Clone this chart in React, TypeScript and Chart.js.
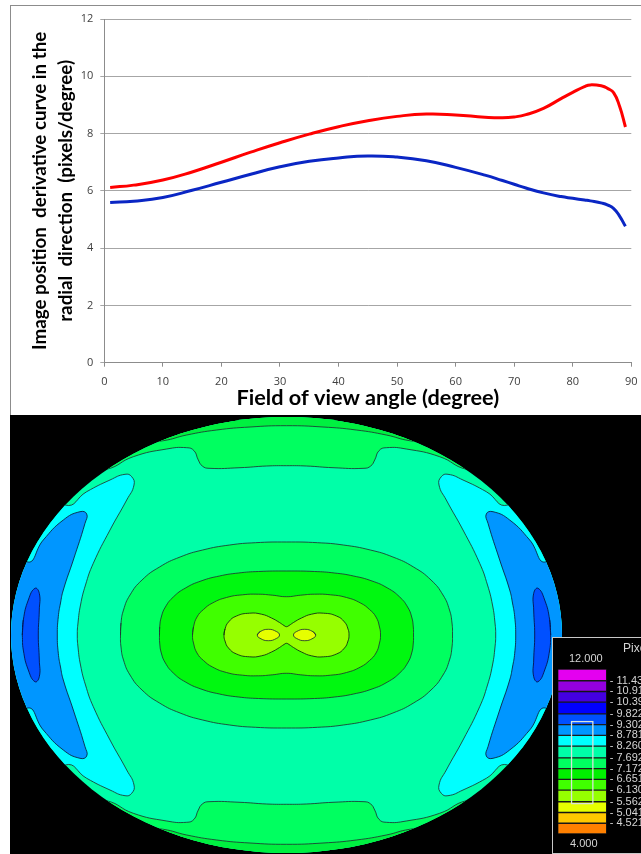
import React, { useEffect, useRef } from "react";
import { Chart, registerables } from "chart.js";

Chart.register(...registerables);

// ---------- line chart data ----------
const angles = [1, 5, 10, 15, 20, 25, 30, 35, 40, 45, 50, 55, 60, 65, 68, 70, 72, 75, 78, 80, 82, 83, 85, 86, 87, 88, 89];
const radialRed = [6.12, 6.2, 6.38, 6.66, 7.0, 7.35, 7.68, 7.98, 8.24, 8.45, 8.6, 8.68, 8.65, 8.57, 8.55, 8.58, 8.66, 8.88, 9.22, 9.44, 9.64, 9.7, 9.66, 9.57, 9.42, 8.95, 8.23];
const radialBlue = [5.59, 5.64, 5.77, 6.02, 6.3, 6.58, 6.84, 7.03, 7.15, 7.22, 7.18, 7.05, 6.82, 6.55, 6.36, 6.23, 6.1, 5.93, 5.8, 5.74, 5.68, 5.65, 5.57, 5.5, 5.38, 5.12, 4.76];
const yTicks = [0, 2, 4, 6, 8, 10, 12];
const xAxisTitle = "Field of view angle (degree)";
const yAxisTitle = ["Image position  derivative curve in the", "radial  direction  (pixels/degree)"];

// ---------- contour map data (map pixels from image centre; one quadrant each) ----------
type P = [number, number];
const mapRadii: P = [275.5, 218];
const cyanEdge: P[] = [[221.5, 130], [199.8, 143.3], [176.5, 155], [161.5, 160.7], [154.8, 158.3], [152.5, 150], [159.8, 135], [176.5, 105], [193.2, 71.7], [201, 50], [206, 30], [208.5, 12], [209.2, 0]];
const azureEdge: P[] = [[259.8, 73.3], [243.2, 95], [223.2, 115], [206.5, 123.3], [199.8, 121], [201.5, 111.7], [213.2, 75], [223.2, 45], [226, 32], [228.2, 18.3], [229.2, 0]];
const blueEdge: P[] = [[264.2, 0], [263.2, 15], [258.2, 35], [251.5, 46.7], [247.2, 41.7], [247.2, 25], [248.2, 0]];
const capInnerEdge: P[] = [[179.8, 165.7], [153.2, 178.3], [119.8, 186], [99.8, 187.3], [92.5, 184.3], [88.2, 175], [84.2, 169], [77.5, 166.7], [46.5, 167.3], [19.8, 169], [0, 169.3]];
const capOuterEdge: P[] = [[123.2, 194.3], [99.8, 200], [69.8, 205], [36.5, 208], [0, 209.3]];
const ring1: P[] = [[166, 0], [165.5, 12], [163, 25], [156.5, 40], [144.5, 55], [127, 68], [106.4, 78], [83.8, 85], [56.8, 90], [31, 92.3], [0, 93]];
const ring2: P[] = [[127, 0], [126.8, 8], [125.2, 18], [121.1, 28], [113.2, 38], [101, 47], [85.5, 54], [67, 59], [48, 62], [28, 63.5], [0, 64]];
const ring3: P[] = [[94, 0], [93, 8], [89.5, 18], [83, 25.5], [74, 32], [60, 37.5], [44, 40.2], [28, 40.8], [14, 39.8], [0, 38.3]];
const ring4: P[] = [[62.5, 0], [61.5, 6], [58, 13], [50, 19], [37, 21.8], [25, 20.8], [15, 17], [7, 12.5], [2.5, 9.5], [0, 8.3]];
const coreEdge: P[] = [[29.2, 0], [26.5, 3.3], [18.2, 5.7], [9.8, 3.3], [7, 0]];

// ---------- colour bar data ----------
const bandEdges = [4, 4.521, 5.041, 5.562, 6.13, 6.651, 7.172, 7.692, 8.26, 8.781, 9.302, 9.822, 10.391, 10.911, 11.432, 12];
const bandColors = ["#ff8000", "#ffc800", "#e6ff00", "#96ff00", "#40ff00", "#00f000", "#00ff60", "#00ffa8", "#00ffff", "#0096ff", "#0050ff", "#0000ff", "#4400e0", "#9400e0", "#e400f0"];
const bandTicks = bandEdges.slice(1, -1);
const bandTickLabels = ["- 4.521", "- 5.041", "- 5.562", "- 6.130", "- 6.651", "- 7.172", "- 7.692", "- 8.260", "- 8.781", "- 9.302", "- 9.822", "- 10.391", "- 10.911", "- 11.432"];
const rangeWindow: P = [5.43, 9.49];

const LINE = "rgba(30,55,50,0.85)";
const far = 300;

const toPts = (arr: P[]) => arr.map(([x, y]) => ({ x, y }));

// whole closed outline from a quarter of it (point on the x axis to point on the y axis)
function fullRing(q: P[]): P[] {
  const tl: P[] = q.map(([x, y]) => [-x, y]);
  const tr: P[] = q.slice(0, -1).reverse().map(([x, y]) => [x, y]);
  const br: P[] = q.slice(1).map(([x, y]) => [x, -y]);
  const bl: P[] = q.slice(0, -1).reverse().map(([x, y]) => [-x, -y]);
  const path = [...tl, ...tr, ...br, ...bl];
  return [...path, path[1]];
}
// side crescent on the left (sign -1) or right (sign 1)
function crescent(q: P[], sign: number, overrun: boolean): P[] {
  const top: P[] = q.map(([x, y]) => [sign * x, y]);
  const low: P[] = q.slice(0, -1).reverse().map(([x, y]) => [sign * x, -y]);
  const path = [...top, ...low];
  if (overrun) {
    return [[sign * far, q[0][1] + 40], ...path, [sign * far, -q[0][1] - 40], [sign * far, q[0][1] + 40]];
  }
  return [...path, path[0], path[1]];
}
function cap(q: P[], sign: number): P[] {
  const left: P[] = q.map(([x, y]) => [-x, sign * y]);
  const right: P[] = q.slice(0, -1).reverse().map(([x, y]) => [x, sign * y]);
  const y0 = sign * (q[0][1] - 25);
  return [[-far, y0], ...left, ...right, [far, y0], [far, sign * far], [-far, sign * far], [-far, y0]];
}
function coreLobe(q: P[], sign: number): P[] {
  const top: P[] = q.map(([x, y]) => [sign * x, y]);
  const low: P[] = q.slice(0, -1).reverse().map(([x, y]) => [sign * x, -y]);
  return [...top, ...low, top[1]];
}

const ellipseClip = {
  id: "ellipseClip",
  beforeDatasetsDraw(chart: any) {
    const { x, y } = chart.scales;
    const c = chart.ctx;
    c.save();
    c.beginPath();
    c.ellipse(
      x.getPixelForValue(0),
      y.getPixelForValue(0),
      Math.abs(x.getPixelForValue(mapRadii[0]) - x.getPixelForValue(0)),
      Math.abs(y.getPixelForValue(mapRadii[1]) - y.getPixelForValue(0)),
      0, 0, Math.PI * 2
    );
    c.clip();
  },
  afterDatasetsDraw(chart: any) {
    chart.ctx.restore();
  },
};

function region(points: P[], color: string, stroke = LINE, tension = 0.5) {
  return {
    data: toPts(points),
    showLine: true,
    fill: "shape",
    backgroundColor: color,
    borderColor: stroke,
    borderWidth: 1,
    pointRadius: 0,
    tension,
    clip: false,
  };
}

function useChart(make: (c: HTMLCanvasElement) => Chart) {
  const ref = useRef<HTMLCanvasElement | null>(null);
  useEffect(() => {
    const chart = make(ref.current as HTMLCanvasElement);
    return () => chart.destroy();
  }, []);
  return ref;
}

const FONT = "Lato";

function makeLine(canvas: HTMLCanvasElement) {
  const series = (values: number[], color: string) => ({
    data: values.map((y, i) => ({ x: angles[i], y })),
    showLine: true,
    borderColor: color,
    backgroundColor: color,
    borderWidth: 3,
    pointRadius: 0,
    tension: 0.5,
  });
  return new Chart(canvas, {
    type: "scatter",
    data: { datasets: [series(radialRed, "#ff0000"), series(radialBlue, "#0a26c4")] },
    options: {
      responsive: false,
      animation: false,
      layout: { autoPadding: false, padding: { top: 19, right: 9.7, left: 0, bottom: 0 } },
      plugins: { legend: { display: false }, tooltip: { enabled: false } },
      scales: {
        x: {
          type: "linear", min: 0, max: 90,
          afterFit: (s: any) => { s.height = 52.3; s.paddingLeft = 0; s.paddingRight = 0; },
          border: { color: "#8c8c8c" },
          grid: { drawOnChartArea: false, tickLength: 4, color: "#8c8c8c" },
          ticks: { stepSize: 10, maxRotation: 0, color: "#404040", padding: 9, font: { family: "Open Sans", size: 11 } },
          title: { display: true, text: xAxisTitle, color: "#000", padding: { top: 0, bottom: 4 }, font: { family: FONT, size: 21.7, weight: "bold", lineHeight: 1.2 } },
        },
        y: {
          type: "linear", min: 0, max: 12,
          afterFit: (s: any) => { s.width = 104.3; },
          afterBuildTicks: (s: any) => { s.ticks = yTicks.map((value) => ({ value })); },
          border: { color: "#8c8c8c" },
          grid: { color: "#a6a6a6", tickLength: 4 },
          ticks: { color: "#404040", padding: 7, font: { family: "Open Sans", size: 11 } },
          title: { display: true, text: yAxisTitle, color: "#000", padding: { top: 27, bottom: 0 }, font: { family: FONT, size: 18.8, weight: "bold", lineHeight: 1.39 } },
        },
      },
    } as any,
  });
}

function makeMap(canvas: HTMLCanvasElement) {
  const layers = [
    region([[-far, -far], [far, -far], [far, far], [-far, far], [-far, -far]], "#00ffa8", "rgba(0,0,0,0)", 0),
    region(cap(capInnerEdge, 1), "#00ff60"),
    region(cap(capInnerEdge, -1), "#00ff60"),
    region(cap(capOuterEdge, 1), "#00f040"),
    region(cap(capOuterEdge, -1), "#00f040"),
    region(crescent(cyanEdge, -1, true), "#00ffff"),
    region(crescent(cyanEdge, 1, true), "#00ffff"),
    region(crescent(azureEdge, -1, true), "#0096ff", "rgba(10,40,70,0.9)"),
    region(crescent(azureEdge, 1, true), "#0096ff", "rgba(10,40,70,0.9)"),
    region(crescent(blueEdge, -1, false), "#0050ff", "rgba(5,20,80,0.9)"),
    region(crescent(blueEdge, 1, false), "#0050ff", "rgba(5,20,80,0.9)"),
    region(fullRing(ring1), "#00ff60"),
    region(fullRing(ring2), "#00f810"),
    region(fullRing(ring3), "#40ff00"),
    region(fullRing(ring4), "#96ff00", "rgba(20,50,20,0.9)"),
    region(coreLobe(coreEdge, -1), "#e6ff00"),
    region(coreLobe(coreEdge, 1), "#e6ff00"),
  ];
  return new Chart(canvas, {
    type: "scatter",
    data: { datasets: layers.reverse() as any },
    options: {
      responsive: false,
      animation: false,
      layout: { padding: 0 },
      plugins: { legend: { display: false }, tooltip: { enabled: false } },
      scales: {
        x: { type: "linear", display: false, min: -276.5, max: 354.5 },
        y: { type: "linear", display: false, min: -219, max: 220 },
      },
    } as any,
    plugins: [ellipseClip],
  });
}

function makeBar(canvas: HTMLCanvasElement) {
  const bands = bandColors.map((color, i) => ({
    data: [[bandEdges[i], bandEdges[i + 1]]],
    backgroundColor: color,
    borderColor: "rgba(40,40,40,0.55)",
    borderWidth: 1,
    borderSkipped: false,
    barPercentage: 1,
    categoryPercentage: 1,
  }));
  const windowBar = {
    data: [rangeWindow],
    backgroundColor: "rgba(0,0,0,0)",
    borderColor: "#d8e4d8",
    borderWidth: 1.5,
    borderSkipped: false,
    barPercentage: 0.47,
    categoryPercentage: 1,
  };
  return new Chart(canvas, {
    type: "bar",
    data: { labels: ["range"], datasets: [windowBar, ...bands] as any },
    options: {
      responsive: false,
      animation: false,
      layout: { autoPadding: false, padding: { left: 4.7, top: 31, bottom: 20, right: 0 } },
      plugins: { legend: { display: false }, tooltip: { enabled: false } },
      scales: {
        x: { stacked: true, display: false },
        y: {
          type: "linear", min: 4, max: 12, position: "right",
          afterFit: (s: any) => { s.width = 34.3; },
          afterBuildTicks: (s: any) => { s.ticks = bandTicks.map((value) => ({ value })); },
          border: { display: false },
          grid: { display: false, drawTicks: false },
          ticks: {
            autoSkip: false, padding: 3, color: "#d4d4d4",
            font: { family: "Liberation Sans", size: 11 },
            callback: (_v: any, i: number) => bandTickLabels[i],
          },
        },
      },
    } as any,
  });
}

const abs = (left: number, top: number, width: number, height: number): React.CSSProperties => ({
  position: "absolute", left, top, width, height,
});
const panelText = (left: number, top: number, size = 11): React.CSSProperties => ({
  position: "absolute", left, top, color: "#d4d4d4", font: `${size}px 'Liberation Sans'`, whiteSpace: "nowrap",
});

export default function App() {
  const lineRef = useChart(makeLine);
  const mapRef = useChart(makeMap);
  const barRef = useChart(makeBar);
  useEffect(() => {
    document.body.style.margin = "0";
    document.documentElement.style.overflow = "hidden";
  }, []);
  return (
    <div style={{ position: "relative", width: 641, height: 854, overflow: "hidden", background: "#fff" }}>
      <div style={{ ...abs(10, 5, 640, 412), border: "1px solid #8c8c8c", boxSizing: "border-box" }} />
      <canvas ref={lineRef} width={641} height={415} style={{ ...abs(0, 0, 641, 415), display: "block" }} />
      <canvas ref={mapRef} width={631} height={439} style={{ ...abs(10, 415, 631, 439), display: "block", background: "#000" }} />
      <div style={{ ...abs(552, 637, 100, 217), background: "#000", border: "1px solid #c8c8c8", boxSizing: "border-box" }} />
      <canvas ref={barRef} width={88} height={216} style={{ ...abs(553, 638, 88, 216), display: "block" }} />
      <div style={panelText(623, 641, 12)}>Pixels/degree</div>
      <div style={panelText(569, 652)}>12.000</div>
      <div style={panelText(570, 837)}>4.000</div>
    </div>
  );
}
